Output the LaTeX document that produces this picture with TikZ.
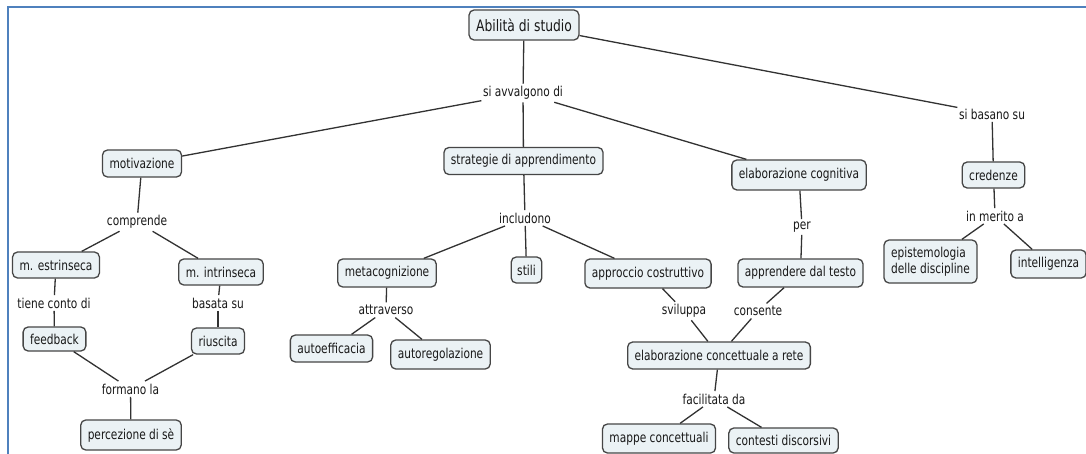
\documentclass[tikz,border=0pt]{standalone}
\usepackage{fontspec}
\setmainfont[FakeStretch=0.78]{DejaVu Sans}
\definecolor{boxfill}{RGB}{235,242,245}
\definecolor{boxline}{RGB}{70,70,70}
\definecolor{linkcol}{RGB}{50,50,50}
\definecolor{framecol}{RGB}{79,129,189}
\definecolor{txt}{RGB}{25,25,25}
\newcommand{\cmapfont}{\fontsize{13.6}{15.5}\selectfont}
\newcommand{\rootfont}{\fontsize{15.8}{18}\selectfont}
\tikzset{
  concept/.style={draw=boxline, fill=boxfill, rounded corners=5pt, line width=1.3pt,
    inner xsep=7pt, inner ysep=3pt, minimum height=27pt, text=txt, font=\cmapfont},
  linkword/.style={inner xsep=1.5pt, inner ysep=2.5pt, text=txt, font=\cmapfont},
  link/.style={draw=linkcol, line width=1.3pt}
}
\begin{document}
\begin{tikzpicture}[x=1pt, y=-1pt]
\useasboundingbox (0,0) rectangle (1086,454);
\fill[white] (0,0) rectangle (1086,454);
\draw[framecol, line width=2pt] (7.5,454) -- (7.5,7.5) -- (1086,7.5);

% concepts
\node[concept, font=\rootfont, minimum height=30pt, inner xsep=7pt] (root) at (524,25) {Abilità di studio};
\node[concept] (mot)   at (142,163.5) {motivazione};
\node[concept] (strat) at (523.5,161) {strategie di apprendimento};
\node[concept, minimum height=30pt] (elcog) at (799,175) {elaborazione cognitiva};
\node[concept, minimum height=26pt] (cred)  at (993.5,175) {credenze};
\node[concept, minimum height=26pt] (estr)  at (56,265) {m. estrinseca};
\node[concept, minimum height=26pt] (intr)  at (221,272) {m. intrinseca};
\node[concept, minimum height=24pt] (feed)  at (54.5,339) {feedback};
\node[concept, minimum height=26pt] (riusc) at (218,341) {riuscita};
\node[concept, minimum height=30pt] (perc)  at (131,435) {percezione di sè};
\node[concept, minimum height=28pt] (meta)  at (387,273) {metacognizione};
\node[concept, minimum height=26pt, inner xsep=6pt] (stili) at (526.5,270) {stili};
\node[concept, minimum height=29pt] (appr)  at (648,273.5) {approccio costruttivo};
\node[concept, minimum height=27pt] (autoe) at (331.5,348.5) {autoefficacia};
\node[concept, minimum height=29pt] (autor) at (440.5,354.5) {autoregolazione};
\node[concept, minimum height=28pt] (apprt) at (800.5,273) {apprendere dal testo};
\node[concept, minimum height=27pt] (elcon) at (719,355.5) {elaborazione concettuale a rete};
\node[concept, minimum height=29pt] (mappe) at (659,438.5) {mappe concettuali};
\node[concept, minimum height=25pt] (cont)  at (783.5,440.5) {contesti discorsivi};
\node[concept, align=left, minimum height=43pt] (epist) at (930.5,261.5) {epistemologia\\delle discipline};
\node[concept, minimum height=28pt] (intel) at (1048.5,264) {intelligenza};

% linking phrases
\node[linkword] (avv)   at (523,93)  {si avvalgono di};
\node[linkword] (basa)  at (992,114) {si basano su};
\node[linkword] (compr) at (137,222) {comprende};
\node[linkword] (tiene) at (54,303)  {tiene conto di};
\node[linkword] (basat) at (218,303) {basata su};
\node[linkword] (form)  at (130.5,389) {formano la};
\node[linkword] (incl)  at (525,218) {includono};
\node[linkword] (attr)  at (386,310) {attraverso};
\node[linkword] (svil)  at (684,311) {sviluppa};
\node[linkword] (cons)  at (758,311) {consente};
\node[linkword] (per)   at (802,227) {per};
\node[linkword] (facil) at (714,399) {facilitata da};
\node[linkword] (merit) at (995,216) {in merito a};

% connectors
\draw[link] (root) -- (avv);
\draw[link] (avv) -- (mot);
\draw[link] (avv) -- (strat);
\draw[link] (avv) -- (elcog);
\draw[link] (root) -- (basa);
\draw[link] (basa) -- (cred);
\draw[link] (mot) -- (compr);
\draw[link] (compr) -- (estr);
\draw[link] (compr) -- (intr);
\draw[link] (estr) -- (tiene);
\draw[link] (tiene) -- (feed);
\draw[link] (intr) -- (basat);
\draw[link] (basat) -- (riusc);
\draw[link] (feed) -- (form);
\draw[link] (riusc) -- (form);
\draw[link] (form) -- (perc);
\draw[link] (strat) -- (incl);
\draw[link] (incl) -- (meta);
\draw[link] (incl) -- (stili);
\draw[link] (incl) -- (appr);
\draw[link] (meta) -- (attr);
\draw[link] (attr) -- (autoe);
\draw[link] (attr) -- (autor);
\draw[link] (appr) -- (svil);
\draw[link] (svil) -- (elcon);
\draw[link] (elcog) -- (per);
\draw[link] (per) -- (apprt);
\draw[link] (apprt) -- (cons);
\draw[link] (cons) -- (elcon);
\draw[link] (elcon) -- (facil);
\draw[link] (facil) -- (mappe);
\draw[link] (facil) -- (cont);
\draw[link] (cred) -- (merit);
\draw[link] (merit) -- (epist);
\draw[link] (merit) -- (intel);
\end{tikzpicture}
\end{document}
